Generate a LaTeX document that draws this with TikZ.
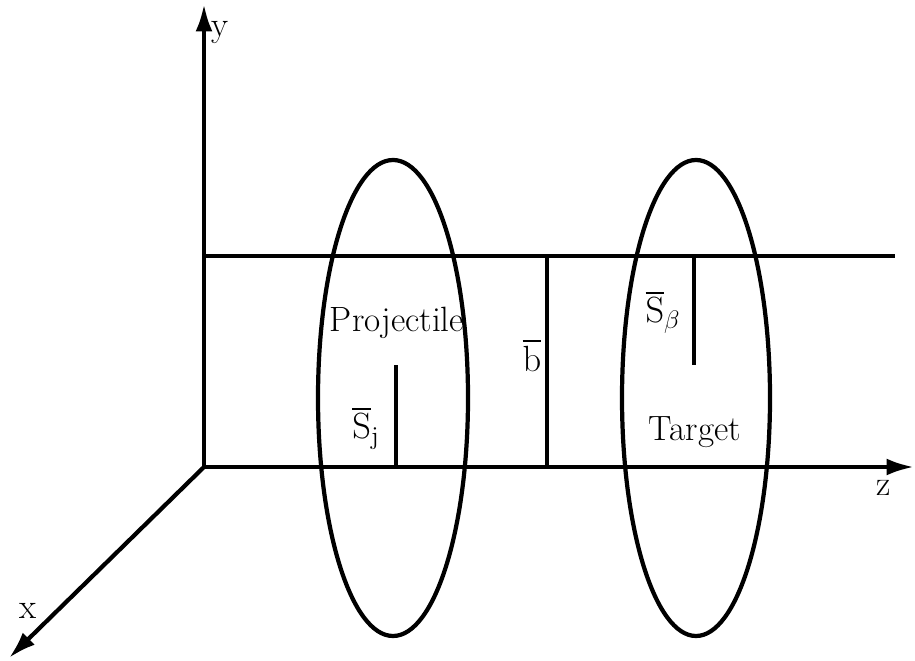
\documentclass[tikz,border=0pt]{standalone}
\usepackage{amsmath,amssymb}
\usepackage{tikz}
\usetikzlibrary{positioning,arrows.meta}

\begin{document}
\begin{tikzpicture}[
    x=0.02cm, y=-0.02cm,
    axis/.style={line width=2.4pt, -{Latex[length=5.5mm, width=3.4mm]}},
    beam/.style={line width=2.4pt},
    orbit/.style={line width=2.4pt},
    spin/.style={line width=2.8pt},
    lbl/.style={font=\fontsize{20}{24}\selectfont, inner sep=1pt}
]
    \useasboundingbox (0,0) rectangle (915,661);

    % axes
    \coordinate (o) at (204,467);
    \coordinate (ytip) at (204,4);
    \coordinate (ztip) at (914,467);
    \coordinate (xtip) at (9,658);
    \draw[axis] (o) -- (ytip);
    \draw[axis] (o) -- (ztip);
    \draw[axis] (o) -- (xtip);
    \node[lbl] (ylab) at (220,33) {y};
    \node[lbl] (zlab) at (884,488) {z};
    \node[lbl] (xlab) at (28,611) {x};

    % upper beam line
    \coordinate (topl) at (204,256);
    \coordinate (topr) at (895,256);
    \draw[beam] (topl) -- (topr);

    % nuclei
    \draw[orbit] (393,398) ellipse [x radius=75, y radius=238];
    \draw[orbit] (696,398) ellipse [x radius=74, y radius=238];
    \node[lbl] (proj) at (397,323) {Projectile};
    \node[lbl] (targ) at (695,432) {Target};

    % vectors
    \coordinate (sj0) at (396,467);
    \coordinate (sj1) at (396,365);
    \coordinate (b0) at (547,467);
    \coordinate (b1) at (547,256);
    \coordinate (sb0) at (694,256);
    \coordinate (sb1) at (694,365);
    \draw[spin] (sj0) -- (sj1);
    \draw[spin] (b0) -- (b1);
    \draw[spin] (sb0) -- (sb1);
    \node[lbl] (sjlab) at (366,428) {$\overline{\mathrm{S}}_{\mathrm{j}}$};
    \node[lbl] (blab) at (532,355) {$\overline{\mathrm{b}}$};
    \node[lbl] (sblab) at (663,312) {$\overline{\mathrm{S}}_{\beta}$};
\end{tikzpicture}
\end{document}
